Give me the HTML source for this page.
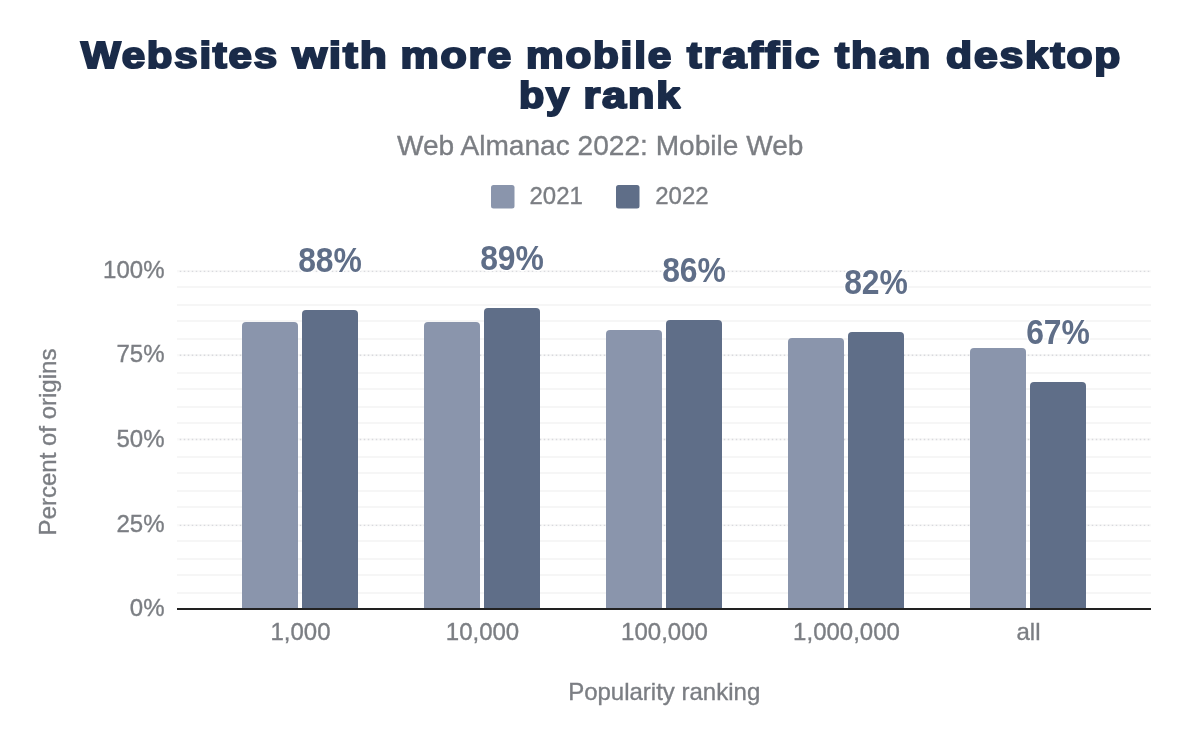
<!DOCTYPE html>
<html><head><meta charset="utf-8"><title>Websites with more mobile traffic than desktop by rank</title>
<style>
html,body{margin:0;padding:0;background:#fff;width:1200px;height:742px;overflow:hidden}
svg{display:block;will-change:transform}
text{font-family:"Liberation Sans",sans-serif}
.ax{font-size:24px;fill:#7b7e83;stroke:#7b7e83;stroke-width:0.35px}
.dl{font-size:35px;font-weight:bold;fill:#5f6e88;stroke:#fff;stroke-width:3px;paint-order:stroke;stroke-linejoin:round}
.t{font-size:37.5px;font-weight:bold;fill:#1a2b49;stroke:#1a2b49;stroke-width:2.1px;stroke-linejoin:miter;stroke-miterlimit:2;letter-spacing:1.6px}
.st{font-size:28.1px;fill:#7b7e83;stroke:#7b7e83;stroke-width:0.35px}
</style></head>
<body>
<svg width="1200" height="742" viewBox="0 0 1200 742">
<rect width="1200" height="742" fill="#fff"/>
<text class="t" x="81.10" y="67.8" textLength="197.80" lengthAdjust="spacingAndGlyphs">Websites</text>
<text class="t" x="292.50" y="67.8" textLength="96.10" lengthAdjust="spacingAndGlyphs">with</text>
<text class="t" x="400.50" y="67.8" textLength="112.40" lengthAdjust="spacingAndGlyphs">more</text>
<text class="t" x="526.00" y="67.8" textLength="147.00" lengthAdjust="spacingAndGlyphs">mobile</text>
<text class="t" x="687.10" y="67.8" textLength="134.00" lengthAdjust="spacingAndGlyphs">traffic</text>
<text class="t" x="834.90" y="67.8" textLength="97.10" lengthAdjust="spacingAndGlyphs">than</text>
<text class="t" x="946.10" y="67.8" textLength="176.00" lengthAdjust="spacingAndGlyphs">desktop</text>
<text class="t" x="519.10" y="108.1" textLength="51.80" lengthAdjust="spacingAndGlyphs">by</text>
<text class="t" x="583.40" y="108.1" textLength="98.70" lengthAdjust="spacingAndGlyphs">rank</text>
<text class="st" x="600.2" y="154.8" text-anchor="middle">Web Almanac 2022: Mobile Web</text>
<rect x="491" y="185" width="23.5" height="23.5" rx="2.5" fill="#8a95ac"/>
<text class="ax" x="529.5" y="204">2021</text>
<rect x="616" y="185" width="23.5" height="23.5" rx="2.5" fill="#5f6e88"/>
<text class="ax" x="655.2" y="204">2022</text>
<rect x="177" y="286" width="974" height="2" fill="#f6f6f6"/>
<rect x="177" y="304" width="974" height="2" fill="#f6f6f6"/>
<rect x="177" y="320" width="974" height="2" fill="#f6f6f6"/>
<rect x="177" y="338" width="974" height="2" fill="#f6f6f6"/>
<rect x="177" y="372" width="974" height="2" fill="#f6f6f6"/>
<rect x="177" y="388" width="974" height="2" fill="#f6f6f6"/>
<rect x="177" y="406" width="974" height="2" fill="#f6f6f6"/>
<rect x="177" y="422" width="974" height="2" fill="#f6f6f6"/>
<rect x="177" y="456" width="974" height="2" fill="#f6f6f6"/>
<rect x="177" y="472" width="974" height="2" fill="#f6f6f6"/>
<rect x="177" y="490" width="974" height="2" fill="#f6f6f6"/>
<rect x="177" y="506" width="974" height="2" fill="#f6f6f6"/>
<rect x="177" y="540" width="974" height="2" fill="#f6f6f6"/>
<rect x="177" y="558" width="974" height="2" fill="#f6f6f6"/>
<rect x="177" y="574" width="974" height="2" fill="#f6f6f6"/>
<rect x="177" y="592" width="974" height="2" fill="#f6f6f6"/>
<rect x="177" y="270.0" width="974" height="2.4" fill="#f9f9f9"/>
<line x1="179.75" x2="1151" y1="271.4" y2="271.4" stroke="#d9dade" stroke-width="1.4" stroke-dasharray="1.5 2.5"/>
<rect x="177" y="353.9" width="974" height="2.4" fill="#f9f9f9"/>
<line x1="179.75" x2="1151" y1="355.3" y2="355.3" stroke="#d9dade" stroke-width="1.4" stroke-dasharray="1.5 2.5"/>
<rect x="177" y="438.1" width="974" height="2.4" fill="#f9f9f9"/>
<line x1="179.75" x2="1151" y1="439.5" y2="439.5" stroke="#d9dade" stroke-width="1.4" stroke-dasharray="1.5 2.5"/>
<rect x="177" y="524.0" width="974" height="2.4" fill="#f9f9f9"/>
<line x1="179.75" x2="1151" y1="525.4" y2="525.4" stroke="#d9dade" stroke-width="1.4" stroke-dasharray="1.5 2.5"/>
<path d="M242,608 V326 Q242,322 246,322 H294 Q298,322 298,326 V608 Z" fill="#8a95ac"/>
<path d="M424,608 V326 Q424,322 428,322 H476 Q480,322 480,326 V608 Z" fill="#8a95ac"/>
<path d="M606,608 V334 Q606,330 610,330 H658 Q662,330 662,334 V608 Z" fill="#8a95ac"/>
<path d="M788,608 V342 Q788,338 792,338 H840 Q844,338 844,342 V608 Z" fill="#8a95ac"/>
<path d="M970,608 V352 Q970,348 974,348 H1022 Q1026,348 1026,352 V608 Z" fill="#8a95ac"/>
<path d="M302,608 V314 Q302,310 306,310 H354 Q358,310 358,314 V608 Z" fill="#5f6e88"/>
<path d="M484,608 V312 Q484,308 488,308 H536 Q540,308 540,312 V608 Z" fill="#5f6e88"/>
<path d="M666,608 V324 Q666,320 670,320 H718 Q722,320 722,324 V608 Z" fill="#5f6e88"/>
<path d="M848,608 V336 Q848,332 852,332 H900 Q904,332 904,336 V608 Z" fill="#5f6e88"/>
<path d="M1030,608 V386 Q1030,382 1034,382 H1082 Q1086,382 1086,386 V608 Z" fill="#5f6e88"/>
<rect x="177" y="608" width="974" height="2" fill="#222"/>
<text transform="translate(330.0,271.5) scale(0.91,1)" text-anchor="middle" class="dl">88%</text>
<text transform="translate(512.0,269.5) scale(0.91,1)" text-anchor="middle" class="dl">89%</text>
<text transform="translate(694.0,281.5) scale(0.91,1)" text-anchor="middle" class="dl">86%</text>
<text transform="translate(876.0,293.5) scale(0.91,1)" text-anchor="middle" class="dl">82%</text>
<text transform="translate(1058.0,343.5) scale(0.91,1)" text-anchor="middle" class="dl">67%</text>
<text x="164.5" y="278.4" text-anchor="end" class="ax">100%</text>
<text x="164.5" y="362.3" text-anchor="end" class="ax">75%</text>
<text x="164.5" y="446.5" text-anchor="end" class="ax">50%</text>
<text x="164.5" y="532.4" text-anchor="end" class="ax">25%</text>
<text x="164.5" y="616.0" text-anchor="end" class="ax">0%</text>
<text x="300.5" y="640.3" text-anchor="middle" class="ax">1,000</text>
<text x="482.5" y="640.3" text-anchor="middle" class="ax">10,000</text>
<text x="664.5" y="640.3" text-anchor="middle" class="ax">100,000</text>
<text x="846.5" y="640.3" text-anchor="middle" class="ax">1,000,000</text>
<text x="1028.5" y="640.3" text-anchor="middle" class="ax">all</text>
<text class="ax" x="664.2" y="699.8" text-anchor="middle">Popularity ranking</text>
<text class="ax" transform="translate(56,442) rotate(-90)" text-anchor="middle">Percent of origins</text>
</svg>
</body></html>
